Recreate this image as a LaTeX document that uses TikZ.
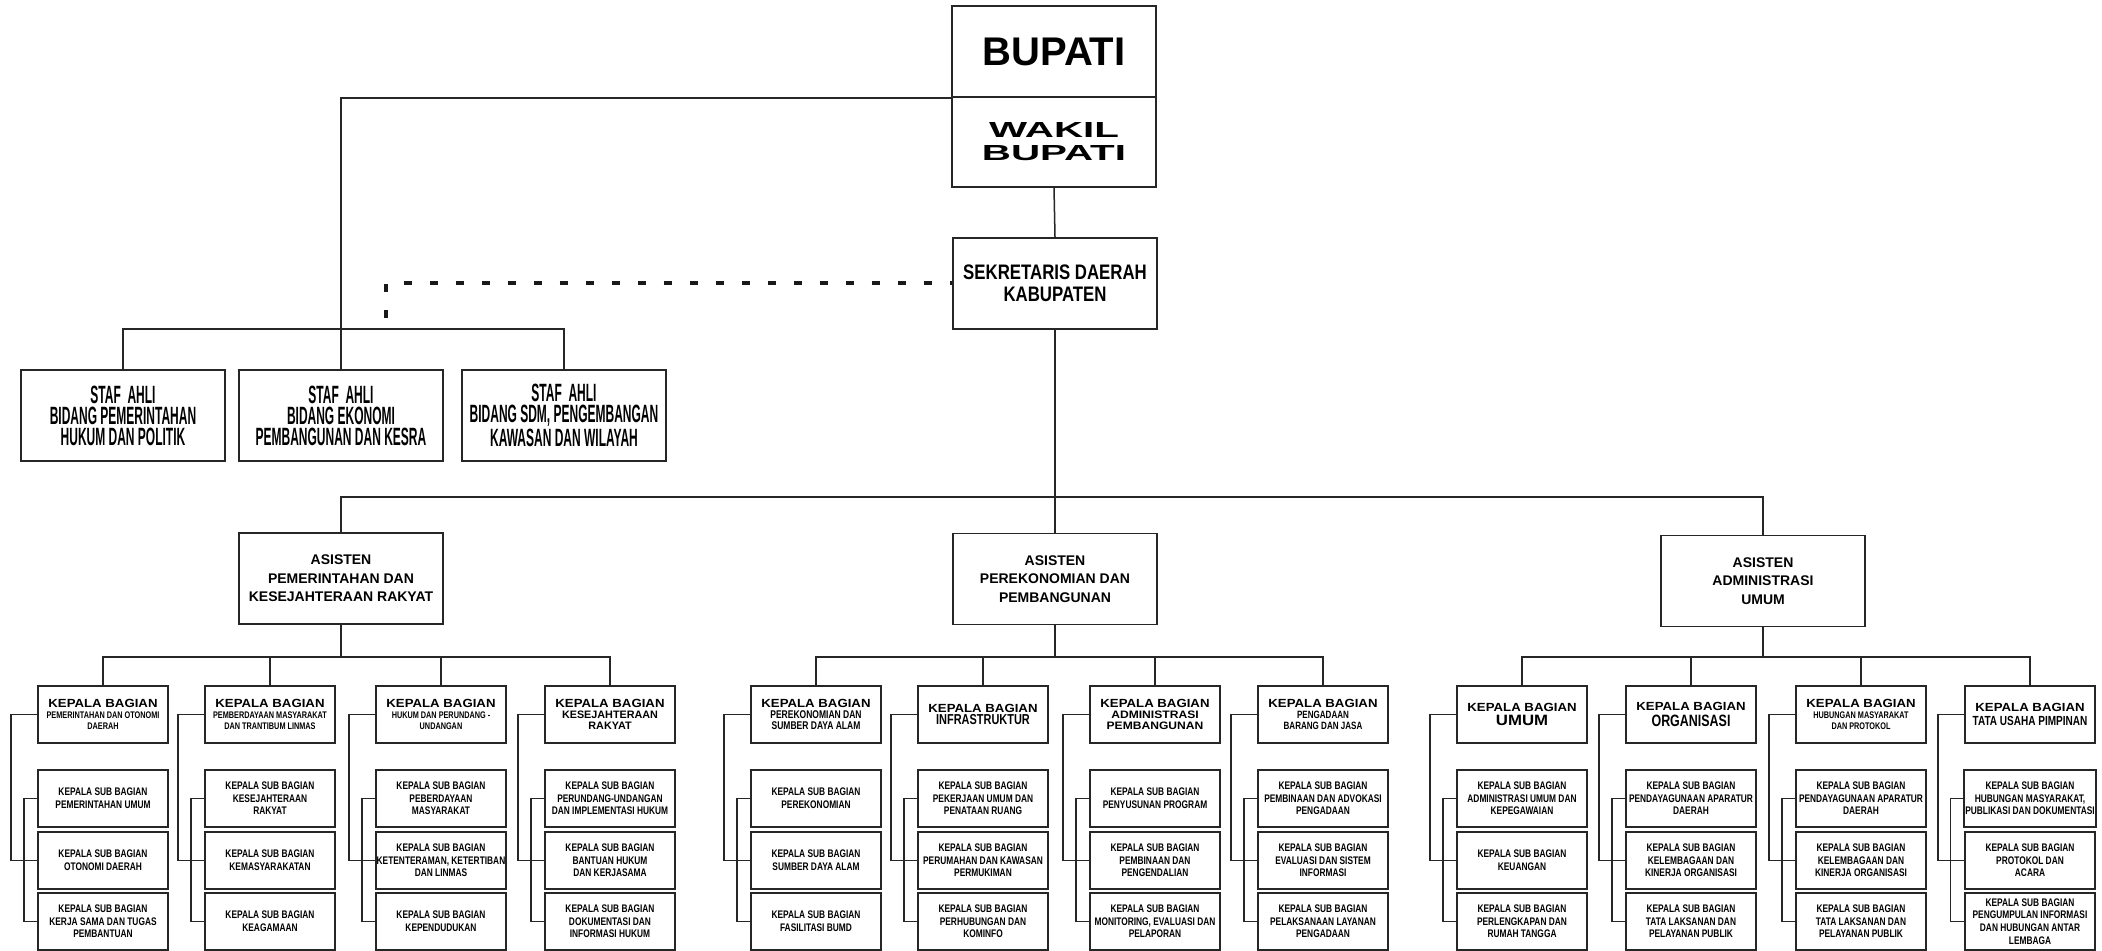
\documentclass[tikz,border=0pt]{standalone}
\usepackage{fontspec}
\setmainfont{Liberation Sans}
\newfontfamily\fA[FakeStretch=0.76]{Liberation Sans}
\newfontfamily\fS[FakeStretch=0.48]{Liberation Sans}
\newfontfamily\fW[FakeStretch=1.12]{Liberation Sans}
\newfontfamily\fWW[FakeStretch=1.85]{Liberation Sans}
\newfontfamily\fB[FakeStretch=0.8]{Liberation Sans}
\newcommand{\ksb}{KEPALA SUB BAGIAN}
\newcommand{\kbh}{{\fW\bfseries\fontsize{5.9}{5.9}\selectfont KEPALA BAGIAN}}
\newcommand{\kbw}[1]{{\fW\bfseries\fontsize{5.4}{5.6}\selectfont #1}}
\newcommand{\kbp}[1]{{\rmfamily\bfseries\fontsize{5.4}{5.6}\selectfont #1}}
\newcommand{\kbn}[2]{{\fA\bfseries\fontsize{#1}{#1}\selectfont #2}}
\newcommand{\kbunit}[6]{%
  \node[kabag] (#1) at (#2,714.5) {#3};
  \node[subbox] (#1a) at (#2,798.5) {#4};
  \node[subbox] (#1b) at (#2,860.5) {#5};
  \node[subbox] (#1c) at (#2,921.5) {#6};
  \draw[conn] (#1.west) -- ([xshift=-13pt]#1.west) |- (#1b.west);
  \draw[conn] (#1a.west) -- ([xshift=-6.5pt]#1a.west) |- (#1c.west);
}
\begin{document}
\begin{tikzpicture}[x=0.5pt,y=-0.5pt,
  big/.style={draw=black!85, line width=0.85pt, minimum width=102pt, minimum height=45.5pt, inner sep=1pt, align=center},
  kabag/.style={draw=black!85, line width=1pt, minimum width=65pt, minimum height=28.5pt, inner sep=0.5pt, align=center, font=\fA\bfseries\fontsize{4.8}{5.4}\selectfont},
  subbox/.style={kabag, font=\fA\bfseries\fontsize{5.5}{6.3}\selectfont},
  conn/.style={draw=black!85, line width=0.75pt},
  dots/.style={draw=black!90, line width=2pt, dash pattern=on 4pt off 9pt}]
\useasboundingbox[fill=white] (0,0) rectangle (2102,951);

% top
\node[big, minimum height=45.5pt, font=\bfseries\fontsize{20}{20}\selectfont] (bupati) at (1054,51.5) {BUPATI};
\node[big, minimum height=45pt, font=\fWW\bfseries\fontsize{10.9}{11.5}\selectfont] (wakil) at (1054,142) {WAKIL\\BUPATI};
\node[big, font=\fB\bfseries\fontsize{10.5}{11}\selectfont] (sekda) at (1055,283.5) {SEKRETARIS DAERAH\\KABUPATEN};

% staf ahli
\node[big, font=\fS\bfseries\fontsize{12.5}{10.5}\selectfont] (st1) at (123,415.5) {STAF\ \ AHLI\\BIDANG PEMERINTAHAN\\HUKUM DAN POLITIK};
\node[big, font=\fS\bfseries\fontsize{12.5}{10.5}\selectfont] (st2) at (341,415.5) {STAF\ \ AHLI\\BIDANG EKONOMI\\PEMBANGUNAN DAN KESRA};
\node[big, font=\fS\bfseries\fontsize{12.5}{10.5}\selectfont] (st3) at (564,415.5) {STAF\ \ AHLI\\BIDANG SDM, PENGEMBANGAN\\KAWASAN DAN WILAYAH};

% asisten
\node[big, font=\bfseries\fontsize{7}{9.3}\selectfont] (a1) at (341,578.5) {ASISTEN\\PEMERINTAHAN DAN\\KESEJAHTERAAN RAKYAT};
\node[big, font=\bfseries\fontsize{7}{9.3}\selectfont] (a2) at (1055,579) {ASISTEN\\PEREKONOMIAN DAN\\PEMBANGUNAN};
\node[big, font=\bfseries\fontsize{7}{9.3}\selectfont] (a3) at (1763,581) {ASISTEN\\ADMINISTRASI\\UMUM};

\coordinate (busS) at (0,329);
\coordinate (busA) at (0,497);
\coordinate (bus1) at (0,657);
\coordinate (dotend) at (386,318);

\draw[conn] (wakil.south) -- (sekda.north);
\draw[conn] (bupati.south west) -| (st2.north);
\draw[conn] (st1.north) |- (st3.north |- busS) -- (st3.north);
\draw[dots] (dotend) |- (sekda.west);
\draw[conn] (sekda.south) -- (a2.north);
\draw[conn] (a1.north) |- (a3.north |- busA) -- (a3.north);

% group 1
\kbunit{k11}{103}{\kbh\\PEMERINTAHAN DAN OTONOMI\\DAERAH}
  {\ksb\\PEMERINTAHAN UMUM}{\ksb\\OTONOMI DAERAH}{\ksb\\KERJA SAMA DAN TUGAS\\PEMBANTUAN}
\kbunit{k12}{270}{\kbh\\PEMBERDAYAAN MASYARAKAT\\DAN TRANTIBUM LINMAS}
  {\ksb\\KESEJAHTERAAN\\RAKYAT}{\ksb\\KEMASYARAKATAN}{\ksb\\KEAGAMAAN}
\kbunit{k13}{441}{\kbh\\HUKUM DAN PERUNDANG -\\UNDANGAN}
  {\ksb\\PEBERDAYAAN\\MASYARAKAT}{\ksb\\KETENTERAMAN, KETERTIBAN\\DAN LINMAS}{\ksb\\KEPENDUDUKAN}
\kbunit{k14}{610}{\kbh\\\kbp{KESEJAHTERAAN}\\\kbp{RAKYAT}}
  {\ksb\\PERUNDANG-UNDANGAN\\DAN IMPLEMENTASI HUKUM}{\ksb\\BANTUAN HUKUM\\DAN KERJASAMA}{\ksb\\DOKUMENTASI DAN\\INFORMASI HUKUM}

% group 2
\kbunit{k21}{816}{\kbh\\\kbn{5.6}{PEREKONOMIAN DAN}\\\kbn{5.6}{SUMBER DAYA ALAM}}
  {\ksb\\PEREKONOMIAN}{\ksb\\SUMBER DAYA ALAM}{\ksb\\FASILITASI BUMD}
\kbunit{k22}{983}{\kbh\\[1pt]\kbn{7.2}{INFRASTRUKTUR}}
  {\ksb\\PEKERJAAN UMUM DAN\\PENATAAN RUANG}{\ksb\\PERUMAHAN DAN KAWASAN\\PERMUKIMAN}{\ksb\\PERHUBUNGAN DAN\\KOMINFO}
\kbunit{k23}{1155}{\kbh\\\kbw{ADMINISTRASI}\\\kbw{PEMBANGUNAN}}
  {\ksb\\PENYUSUNAN PROGRAM}{\ksb\\PEMBINAAN DAN\\PENGENDALIAN}{\ksb\\MONITORING, EVALUASI DAN\\PELAPORAN}
\kbunit{k24}{1323}{\kbh\\\kbn{5.3}{PENGADAAN}\\\kbn{5.3}{BARANG DAN JASA}}
  {\ksb\\PEMBINAAN DAN ADVOKASI\\PENGADAAN}{\ksb\\EVALUASI DAN SISTEM\\INFORMASI}{\ksb\\PELAKSANAAN LAYANAN\\PENGADAAN}

% group 3
\kbunit{k31}{1522}{\kbh\\[1.5pt]{\fW\bfseries\fontsize{7.5}{7.5}\selectfont UMUM}}
  {\ksb\\ADMINISTRASI UMUM DAN\\KEPEGAWAIAN}{\ksb\\KEUANGAN}{\ksb\\PERLENGKAPAN DAN\\RUMAH TANGGA}
\kbunit{k32}{1691}{\kbh\\[1.5pt]\kbn{8.2}{ORGANISASI}}
  {\ksb\\PENDAYAGUNAAN APARATUR\\DAERAH}{\ksb\\KELEMBAGAAN DAN\\KINERJA ORGANISASI}{\ksb\\TATA LAKSANAN DAN\\PELAYANAN PUBLIK}
\kbunit{k33}{1861}{\kbh\\HUBUNGAN MASYARAKAT\\DAN PROTOKOL}
  {\ksb\\PENDAYAGUNAAN APARATUR\\DAERAH}{\ksb\\KELEMBAGAAN DAN\\KINERJA ORGANISASI}{\ksb\\TATA LAKSANAN DAN\\PELAYANAN PUBLIK}
\kbunit{k34}{2030}{\kbh\\[1.5pt]\kbn{6.6}{TATA USAHA PIMPINAN}}
  {\ksb\\HUBUNGAN MASYARAKAT,\\PUBLIKASI DAN DOKUMENTASI}{\ksb\\PROTOKOL DAN\\ACARA}{\ksb\\PENGUMPULAN INFORMASI\\DAN HUBUNGAN ANTAR\\LEMBAGA}

% buses to kepala bagian
\draw[conn] (k11.north) |- (k14.north |- bus1) -- (k14.north);
\draw[conn] (a1.south) -- (a1.south |- bus1);
\draw[conn] (k12.north) -- (k12.north |- bus1);
\draw[conn] (k13.north) -- (k13.north |- bus1);
\draw[conn] (k21.north) |- (k24.north |- bus1) -- (k24.north);
\draw[conn] (a2.south) -- (a2.south |- bus1);
\draw[conn] (k22.north) -- (k22.north |- bus1);
\draw[conn] (k23.north) -- (k23.north |- bus1);
\draw[conn] (k31.north) |- (k34.north |- bus1) -- (k34.north);
\draw[conn] (a3.south) -- (a3.south |- bus1);
\draw[conn] (k32.north) -- (k32.north |- bus1);
\draw[conn] (k33.north) -- (k33.north |- bus1);
\end{tikzpicture}
\end{document}
